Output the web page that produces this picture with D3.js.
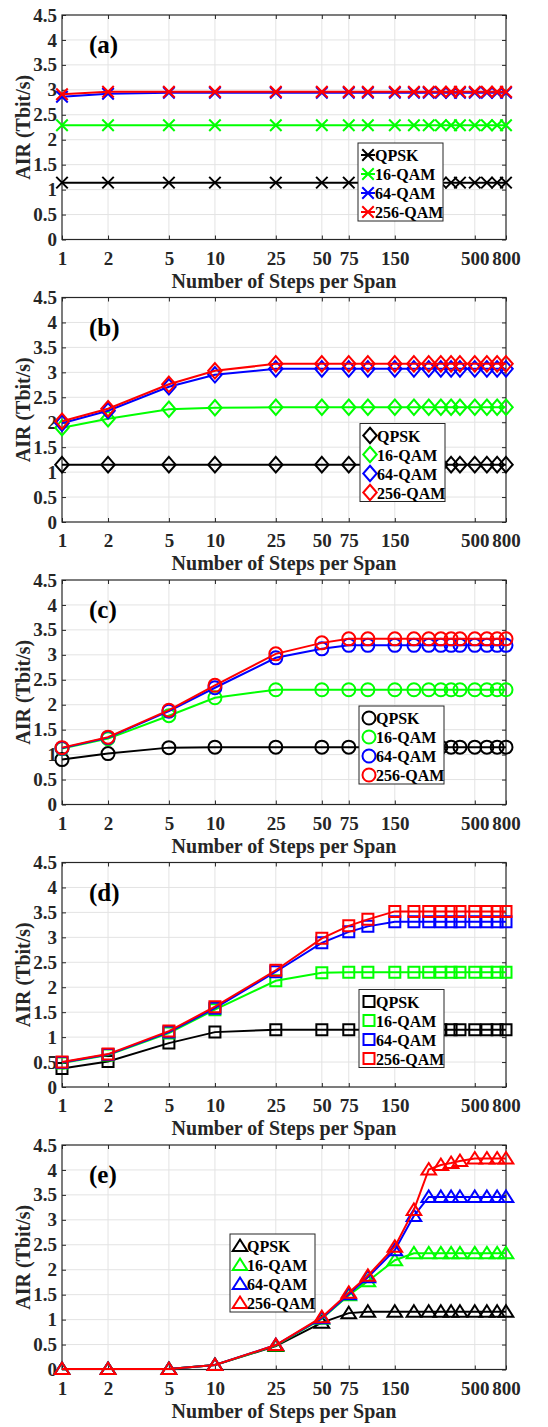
<!DOCTYPE html>
<html><head><meta charset="utf-8">
<script src="https://cdn.jsdelivr.net/npm/d3@7"></script>
<style>
body{margin:0;background:#fff;}
svg{display:block;font-family:"Liberation Serif","Times New Roman",serif;font-weight:bold;}
</style></head>
<body><svg id="c" width="548" height="1427"></svg>
<script>
// ---- data ----
const steps = [1,2,5,10,25,50,75,100,150,200,250,300,350,400,500,600,700,800];
const xTicks = [1,2,5,10,25,50,75,150,500,800];
const yTicks = [0,0.5,1,1.5,2,2.5,3,3.5,4,4.5];
const seriesNames = ["QPSK","16-QAM","64-QAM","256-QAM"];
const panelLabels = ["(a)","(b)","(c)","(d)","(e)"];
const markerTypes = ["x","diamond","circle","square","triangle"];

const aQPSK = [1.14,1.14,1.14,1.14,1.14,1.14,1.14,1.14,1.14,1.14,1.14,1.14,1.14,1.14,1.14,1.14,1.14,1.14];
const a16   = [2.29,2.29,2.29,2.29,2.29,2.29,2.29,2.29,2.29,2.29,2.29,2.29,2.29,2.29,2.29,2.29,2.29,2.29];
const a64   = [2.86,2.92,2.94,2.94,2.94,2.94,2.94,2.94,2.94,2.94,2.94,2.94,2.94,2.94,2.94,2.94,2.94,2.94];
const a256  = [2.91,2.96,2.96,2.96,2.96,2.96,2.96,2.96,2.96,2.96,2.96,2.96,2.96,2.96,2.96,2.96,2.96,2.96];

const bQPSK = [1.15,1.15,1.15,1.15,1.15,1.15,1.15,1.15,1.15,1.15,1.15,1.15,1.15,1.15,1.15,1.15,1.15,1.15];
const b16   = [1.89,2.07,2.26,2.29,2.30,2.30,2.30,2.30,2.30,2.30,2.30,2.30,2.30,2.30,2.30,2.30,2.30,2.30];
const b64   = [1.98,2.23,2.71,2.95,3.07,3.07,3.07,3.07,3.07,3.07,3.07,3.07,3.07,3.07,3.07,3.07,3.07,3.07];
const b256  = [2.02,2.27,2.76,3.03,3.17,3.17,3.17,3.17,3.17,3.17,3.17,3.17,3.17,3.17,3.17,3.17,3.17,3.17];

const cQPSK = [0.90,1.02,1.14,1.15,1.15,1.15,1.15,1.15,1.15,1.15,1.15,1.15,1.15,1.15,1.15,1.15,1.15,1.15];
const c16   = [1.12,1.32,1.78,2.14,2.30,2.30,2.30,2.30,2.30,2.30,2.30,2.30,2.30,2.30,2.30,2.30,2.30,2.30];
const c64   = [1.13,1.34,1.87,2.34,2.94,3.12,3.19,3.19,3.19,3.19,3.19,3.19,3.19,3.19,3.19,3.19,3.19,3.19];
const c256  = [1.14,1.35,1.89,2.39,3.02,3.24,3.32,3.32,3.32,3.32,3.32,3.32,3.32,3.32,3.32,3.32,3.32,3.32];

const dQPSK = [0.37,0.51,0.88,1.10,1.15,1.15,1.15,1.15,1.15,1.15,1.15,1.15,1.15,1.15,1.15,1.15,1.15,1.15];
const d16   = [0.48,0.64,1.08,1.55,2.13,2.29,2.30,2.30,2.30,2.30,2.30,2.30,2.30,2.30,2.30,2.30,2.30,2.30];
const d64   = [0.49,0.65,1.10,1.58,2.31,2.89,3.11,3.22,3.31,3.31,3.31,3.31,3.31,3.31,3.31,3.31,3.31,3.31];
const d256  = [0.50,0.66,1.12,1.61,2.34,2.98,3.23,3.36,3.52,3.52,3.52,3.52,3.52,3.52,3.52,3.52,3.52,3.52];

const eQPSK = [0.01,0.01,0.01,0.09,0.47,0.94,1.13,1.16,1.16,1.16,1.16,1.16,1.16,1.16,1.16,1.16,1.16,1.16];
const e16   = [0.01,0.01,0.01,0.09,0.48,1.02,1.49,1.77,2.19,2.33,2.33,2.33,2.33,2.33,2.33,2.33,2.33,2.33];
const e64   = [0.01,0.01,0.01,0.09,0.49,1.03,1.51,1.85,2.39,3.08,3.46,3.46,3.46,3.46,3.46,3.46,3.46,3.46];
const e256  = [0.01,0.01,0.01,0.09,0.49,1.05,1.54,1.88,2.46,3.20,4.01,4.10,4.14,4.18,4.23,4.23,4.23,4.23];

const panels = [
  [aQPSK,a16,a64,a256],
  [bQPSK,b16,b64,b256],
  [cQPSK,c16,c64,c256],
  [dQPSK,d16,d64,d256],
  [eQPSK,e16,e64,e256]
];
const colors = ["#000000","#00ff00","#0000ff","#ff0000"];

// ---- layout ----
const svg = d3.select("#c");
const L = 62, R = 506, PH = 224.5, step = 282.5, top0 = 15;
const legendPos = [[358,128],[360,126],[359,126],[359,127],[230,89]];

const x = d3.scaleLog().domain([1,800]).range([L,R]);

function markerPath(type, s){
  const h = s/2;
  if(type==="x") return `M${-h},${-h}L${h},${h}M${-h},${h}L${h},${-h}`;
  if(type==="diamond") return `M0,${-h*1.15}L${h},0L0,${h*1.15}L${-h},0Z`;
  if(type==="square") return `M${-h},${-h}H${h}V${h}H${-h}Z`;
  if(type==="triangle") return `M0,${-h*0.95}L${h*1.08},${h*0.75}L${-h*1.08},${h*0.75}Z`;
  return null;
}
function drawMarker(g, type, cx, cy, color){
  if(type==="circle"){
    g.append("circle").attr("cx",cx).attr("cy",cy).attr("r",6.5)
      .attr("fill","none").attr("stroke",color).attr("stroke-width",2);
  } else {
    const size = {x:11.5,diamond:13.5,square:11,triangle:13.5}[type];
    g.append("path").attr("d",markerPath(type,size))
      .attr("transform",`translate(${cx},${cy})`)
      .attr("fill","none").attr("stroke",color).attr("stroke-width",2).attr("stroke-linejoin","miter");
  }
}

panels.forEach((series, pi) => {
  const top = top0 + step*pi, bottom = top + PH;
  const y = d3.scaleLinear().domain([0,4.5]).range([bottom, top]);
  const g = svg.append("g");

  g.append("rect").attr("x",L).attr("y",top).attr("width",R-L).attr("height",PH).attr("fill","#fff");

  // grid
  g.append("g").selectAll("line").data(xTicks.slice(1,-1)).join("line")
    .attr("x1",d=>x(d)).attr("x2",d=>x(d)).attr("y1",top).attr("y2",bottom)
    .attr("stroke","#e3e3e3").attr("stroke-width",1);
  g.append("g").selectAll("line").data(yTicks.slice(1,-1)).join("line")
    .attr("y1",d=>y(d)).attr("y2",d=>y(d)).attr("x1",L).attr("x2",R)
    .attr("stroke","#e3e3e3").attr("stroke-width",1);

  // axes (inward ticks)
  const xAxis = d3.axisBottom(x).tickValues(xTicks).tickFormat(d3.format("d")).tickSize(-4).tickPadding(12);
  const gx = g.append("g").attr("transform",`translate(0,${bottom})`).call(xAxis);
  const yAxis = d3.axisLeft(y).tickValues(yTicks).tickFormat(d=>String(d)).tickSize(-4).tickPadding(5);
  const gy = g.append("g").attr("transform",`translate(${L},0)`).call(yAxis);
  const gxt = g.append("g").attr("transform",`translate(0,${top})`).call(d3.axisTop(x).tickValues(xTicks).tickSize(-4).tickFormat(""));
  const gyr = g.append("g").attr("transform",`translate(${R},0)`).call(d3.axisRight(y).tickValues(yTicks).tickSize(-4).tickFormat(""));
  [gx,gy,gxt,gyr].forEach(a=>{
    a.select(".domain").remove();
    a.selectAll("line").attr("stroke","#262626").attr("stroke-width",1);
    a.selectAll("text").attr("fill","#262626").style("font-family","'Liberation Serif','Times New Roman',serif")
      .style("font-weight","bold").style("font-size","19px");
  });
  gx.selectAll("text").attr("dy","0.71em");
  g.append("rect").attr("x",L).attr("y",top).attr("width",R-L).attr("height",PH)
    .attr("fill","none").attr("stroke","#262626").attr("stroke-width",1.2);

  // axis labels
  g.append("text").attr("x",(L+R)/2).attr("y",bottom+48).attr("text-anchor","middle")
    .attr("font-size",20).attr("fill","#262626").text("Number of Steps per Span");
  g.append("text").attr("transform",`translate(30,${(top+bottom)/2}) rotate(-90)`).attr("text-anchor","middle")
    .attr("font-size",20).attr("fill","#262626").text("AIR (Tbit/s)");

  // panel label
  g.append("text").attr("x",L+27).attr("y",top+38).attr("font-size",25).attr("fill","#000").text(panelLabels[pi]);

  // lines & markers
  const line = d3.line().x((d,i)=>x(steps[i])).y(d=>y(d));
  series.forEach((vals, si)=>{
    const sg = g.append("g");
    sg.append("path").attr("d",line(vals)).attr("fill","none").attr("stroke",colors[si]).attr("stroke-width",2);
    vals.forEach((v,i)=>drawMarker(sg, markerTypes[pi], x(steps[i]), y(v), colors[si]));
  });

  // legend
  const [lx, ly] = legendPos[pi];
  const lg = g.append("g").attr("transform",`translate(${lx},${top+ly})`);
  lg.append("rect").attr("width",85).attr("height",78).attr("fill","#fff").attr("stroke","#262626").attr("stroke-width",1);
  seriesNames.forEach((nm, si)=>{
    const cy = 11 + 19*si;
    if(markerTypes[pi]==="x"){
      lg.append("line").attr("x1",3).attr("x2",17).attr("y1",cy+1).attr("y2",cy+1).attr("stroke",colors[si]).attr("stroke-width",2);
    }
    drawMarker(lg, markerTypes[pi], 10, cy+1, colors[si]);
    lg.append("text").attr("x",17).attr("y",cy+7).attr("font-size",16).attr("fill","#000").text(nm);
  });
});
</script>
</body></html>
